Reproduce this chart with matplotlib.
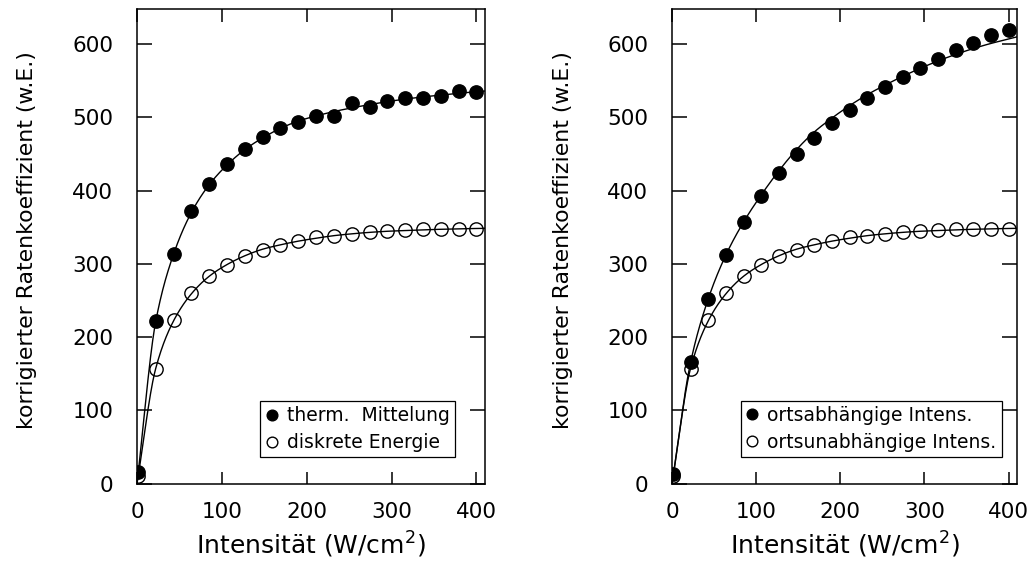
import numpy as np
import matplotlib
matplotlib.use("Agg")
import matplotlib.pyplot as plt

plt.rcParams["font.family"] = ["DejaVu Sans"]
plt.rcParams["mathtext.fontset"] = "dejavusans"

# Measured rate coefficients vs. laser intensity
intensity = [1, 22, 43, 64, 85, 106, 127, 148, 169, 190,
             211, 232, 253, 274, 295, 316, 337, 358, 379, 400]

therm_mittelung = [16, 222, 314, 372, 409, 436, 457, 473, 486, 494,
                   502, 502, 519, 514, 523, 526, 527, 529, 536, 535]
diskrete_energie = [10, 157, 223, 260, 283, 298, 311, 319, 326, 331,
                    336, 338, 341, 343, 345, 346, 347, 347, 348, 348]
ortsabhaengig = [13, 166, 252, 312, 357, 393, 424, 450, 472, 492,
                 510, 527, 542, 555, 568, 580, 592, 602, 612, 620]
ortsunabhaengig = diskrete_energie

# Model curves
curve_x = [0, 22, 43, 64, 85, 106, 127, 148, 169, 190, 211,
           232, 253, 274, 295, 316, 337, 358, 379, 400, 410]
curve_therm = [0, 221, 313, 370, 408, 435, 456, 472, 485, 495, 502,
               508, 513, 517.5, 521.5, 525, 528, 530.5, 533, 535, 536]
curve_diskret = [0, 157, 222, 259, 283, 299, 311, 320, 326, 331, 335,
                 338.5, 341, 343, 344.5, 345.5, 346.5, 347.2, 347.8, 348.3, 348.5]
curve_orts = [0, 165, 252, 312, 357, 394, 427, 456, 480, 499, 516,
              531, 544, 556, 567, 577, 586, 594, 601, 607, 610]

xticks = [0, 100, 200, 300, 400]
yticks = [0, 100, 200, 300, 400, 500, 600]
xlabel = "Intensität (W/cm$^2$)"
ylabel = "korrigierter Ratenkoeffizient (w.E.)"


def pchip(x, y, xs):
    """Monotone cubic Hermite curve through (x, y), evaluated at xs."""
    x = np.asarray(x, float)
    y = np.asarray(y, float)
    h = np.diff(x)
    d = np.diff(y) / h
    n = len(x)
    m = np.zeros(n)
    for k in range(1, n - 1):
        if d[k - 1] * d[k] > 0:
            w1 = 2 * h[k] + h[k - 1]
            w2 = h[k] + 2 * h[k - 1]
            m[k] = (w1 + w2) / (w1 / d[k - 1] + w2 / d[k])
    # end slopes follow the adjacent chords
    m[0] = d[0]
    m[-1] = d[-1]
    idx = np.clip(np.searchsorted(x, xs) - 1, 0, n - 2)
    t = (xs - x[idx]) / h[idx]
    h00 = 2 * t**3 - 3 * t**2 + 1
    h10 = t**3 - 2 * t**2 + t
    h01 = -2 * t**3 + 3 * t**2
    h11 = t**3 - t**2
    return (h00 * y[idx] + h10 * h[idx] * m[idx]
            + h01 * y[idx + 1] + h11 * h[idx] * m[idx + 1])


fig = plt.figure(figsize=(10.31, 5.75), dpi=100)
ax1 = fig.add_axes([0.1329, 0.1591, 0.3375, 0.8252])
ax2 = fig.add_axes([0.6518, 0.1591, 0.3346, 0.8252])

xs = np.linspace(curve_x[0], curve_x[-1], 800)

panels = [
    (ax1, therm_mittelung, diskrete_energie, curve_therm, curve_diskret,
     "therm.  Mittelung", "diskrete Energie", (0.914, 0.055)),
    (ax2, ortsabhaengig, ortsunabhaengig, curve_orts, curve_diskret,
     "ortsabhängige Intens.", "ortsunabhängige Intens.", (0.956, 0.056)),
]

for ax, filled, hollow, cfill, chollow, lab_f, lab_o, anchor in panels:
    ax.plot(xs, pchip(curve_x, cfill, xs), color="black", lw=1.0, zorder=2)
    ax.plot(xs, pchip(curve_x, chollow, xs), color="black", lw=1.0, zorder=2)
    hf, = ax.plot(intensity, filled, linestyle="none", marker="o",
                  markersize=9.6, markerfacecolor="black",
                  markeredgecolor="black", zorder=3, label=lab_f)
    ho, = ax.plot(intensity, hollow, linestyle="none", marker="o",
                  markersize=9.6, markerfacecolor="none",
                  markeredgecolor="black", markeredgewidth=1.0,
                  zorder=3, label=lab_o)

    ax.set_xlim(0, 410)
    ax.set_ylim(0, 648)
    ax.set_xticks(xticks)
    ax.set_yticks(yticks)
    ax.tick_params(axis="both", direction="in", top=True, right=True,
                   width=1.1, labelsize=15.5, colors="black")
    ax.tick_params(axis="y", length=11, pad=17)
    ax.tick_params(axis="x", length=9, pad=13)
    for sp in ax.spines.values():
        sp.set_linewidth(1.1)

    ax.set_xlabel(xlabel, fontsize=18, labelpad=6)
    ax.set_ylabel(ylabel, fontsize=15.8)
    ax.yaxis.set_label_coords(-0.287, 0.513)

    leg = ax.legend(handles=[hf, ho], loc="lower right",
                    bbox_to_anchor=anchor, bbox_transform=ax.transAxes,
                    borderaxespad=0, fontsize=13.5, markerscale=0.8,
                    handlelength=0.7, handletextpad=0.45, labelspacing=0.42,
                    borderpad=0.28, fancybox=False, framealpha=1,
                    edgecolor="black")
    leg.get_frame().set_linewidth(0.9)

fig.savefig("out.png", dpi=100)
